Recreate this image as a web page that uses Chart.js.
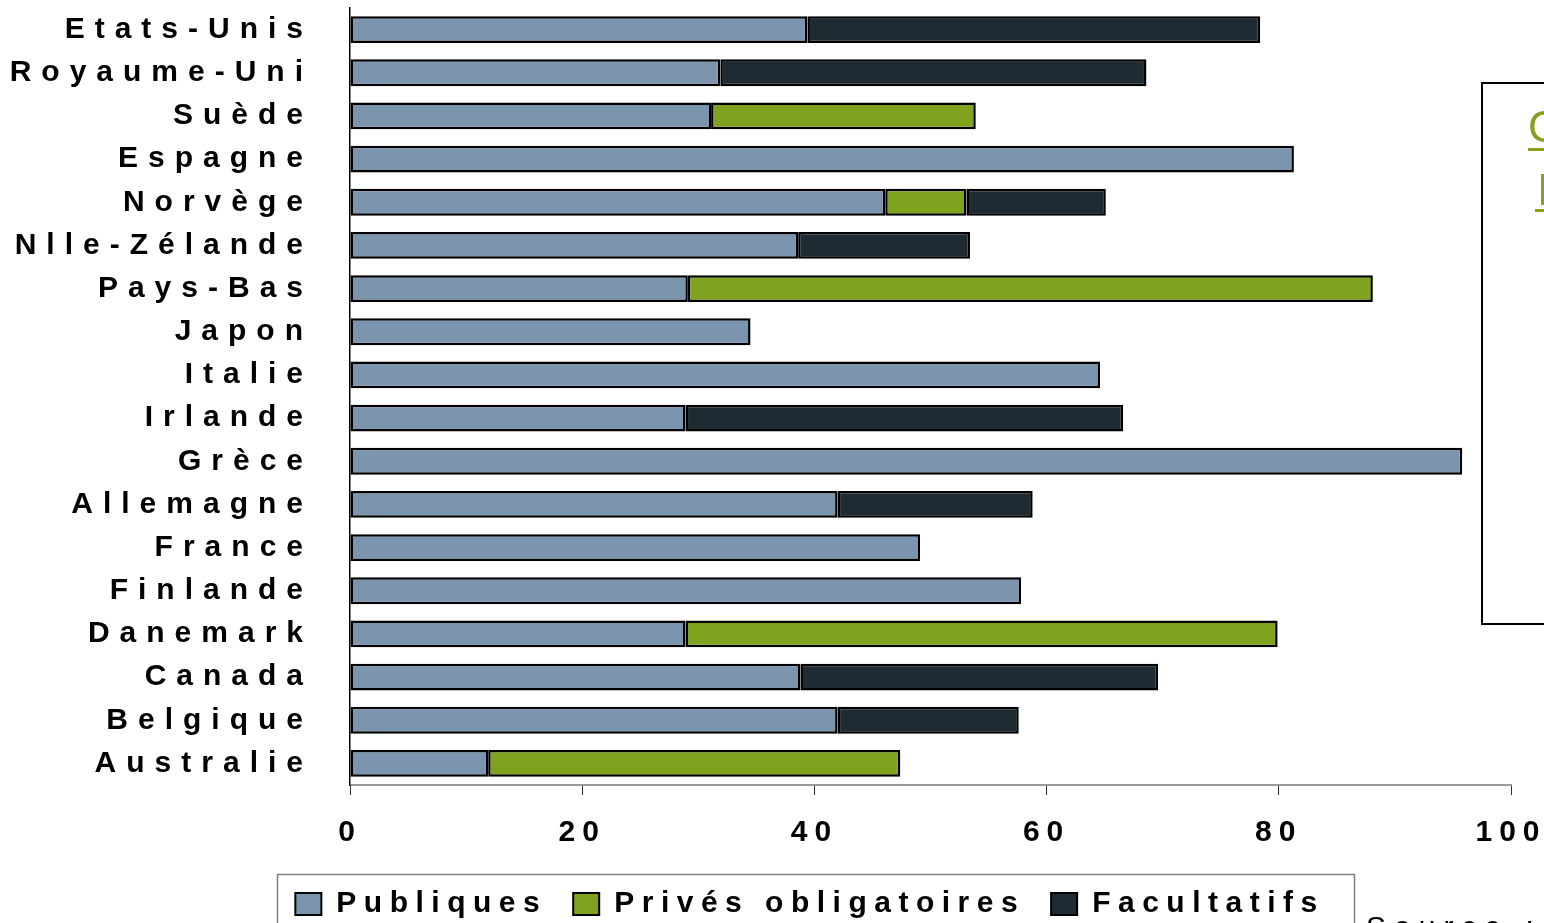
<!DOCTYPE html>
<html>
<head>
<meta charset="utf-8">
<script src="https://cdn.jsdelivr.net/npm/chart.js@4/dist/chart.umd.min.js"></script>
<style>
html,body{margin:0;padding:0;background:#fff;}
#wrap{width:1544px;height:923px;position:relative;}
</style>
</head>
<body>
<div id="wrap"><canvas id="c"></canvas></div>
<script>
const categories = ["Etats-Unis","Royaume-Uni","Suède","Espagne","Norvège","Nlle-Zélande","Pays-Bas","Japon","Italie","Irlande","Grèce","Allemagne","France","Finlande","Danemark","Canada","Belgique","Australie"];
const publiques   = [39.4, 31.9, 31.1, 81.3, 46.1, 38.6, 29.1, 34.5, 64.6, 28.9, 95.8, 42.0, 49.1, 57.8, 28.9, 38.8, 42.0, 11.9];
const prives      = [0, 0, 22.8, 0, 7.0, 0, 59.0, 0, 0, 0, 0, 0, 0, 0, 51.0, 0, 0, 35.5];
const facultatifs = [39.0, 36.7, 0, 0, 12.0, 14.8, 0, 0, 0, 37.7, 0, 16.8, 0, 0, 0, 30.8, 15.6, 0];
const seriesNames = ["Publiques","Privés obligatoires","Facultatifs"];
const xTicks = [0, 20, 40, 60, 80, 100];

const SANS = "'Liberation Sans',Arial,sans-serif";

function patchSpacing(scale, spacing){
  if (!scale || scale._lsPatched) return;
  const orig = scale.drawLabels;
  scale.drawLabels = function(area){
    const c = this.ctx; c.save(); c.letterSpacing = spacing; orig.call(this, area); c.restore();
  };
  scale._lsPatched = true;
}

const deco = {
  id: 'deco',
  beforeUpdate(chart){ chart.ctx.letterSpacing = '7.5px'; },
  afterLayout(chart){
    const lg = chart.legend;
    if (lg){ lg.left = 76; lg.right = 1544; lg.width = 1544 - 76; }
  },
  beforeDraw(chart){
    chart.ctx.letterSpacing = '7.5px';
    patchSpacing(chart.scales.y, '10px');
    patchSpacing(chart.scales.x, '7px');
  },
  afterDraw(chart){
    const ctx = chart.ctx;
    ctx.save();
    // legend frame
    ctx.strokeStyle = '#7f7f7f'; ctx.lineWidth = 1.5;
    ctx.strokeRect(277.5, 874.5, 1077, 80);
    // right side text box (cropped)
    ctx.strokeStyle = '#000'; ctx.lineWidth = 2;
    ctx.strokeRect(1482, 83, 120, 541);
    ctx.letterSpacing = '0px';
    ctx.fillStyle = '#8a9e1e';
    ctx.font = '44px ' + SANS; ctx.textBaseline = 'alphabetic'; ctx.textAlign = 'left';
    ctx.fillText('C', 1528, 142);
    ctx.fillRect(1528, 148, 20, 3);
    ctx.fillText('I', 1537, 205);
    ctx.fillRect(1535, 209, 12, 3);
    // source
    ctx.fillStyle = '#000';
    ctx.font = '30px ' + SANS; ctx.letterSpacing = '8px'; ctx.textBaseline = 'top';
    ctx.fillText('Source : OCDE', 1366, 914);
    ctx.restore();
  }
};

new Chart(document.getElementById('c'), {
  type: 'bar',
  data: {
    labels: categories,
    datasets: [
      { label: seriesNames[0], data: publiques, backgroundColor: '#7b95ae' },
      { label: seriesNames[1], data: prives, backgroundColor: '#7fa31f' },
      { label: seriesNames[2], data: facultatifs, backgroundColor: '#1f2b33' }
    ].map(d => Object.assign(d, { borderColor: '#000', borderWidth: 2.5, borderSkipped: false, categoryPercentage: 1, barPercentage: 0.62 }))
  },
  options: {
    indexAxis: 'y',
    responsive: true,
    maintainAspectRatio: false,
    animation: false,
    layout: { padding: { left: 0, right: 0, top: 8, bottom: -6 } },
    plugins: {
      tooltip: { enabled: false },
      legend: {
        position: 'bottom',
        labels: {
          boxWidth: 26, boxHeight: 22, padding: 26,
          color: '#000',
          font: { family: SANS, size: 30, weight: 'bold' },
          generateLabels(chart){
            return chart.data.datasets.map((d,i) => ({
              text: d.label, fillStyle: d.backgroundColor, strokeStyle: '#000', lineWidth: 2, datasetIndex: i, hidden: false
            }));
          }
        }
      }
    },
    scales: {
      x: {
        stacked: true, min: 0, max: 100,
        afterBuildTicks(s){ s.ticks = xTicks.map(v => ({ value: v })); },
        afterFit(s){ s.height = 78; s.paddingLeft = 0; s.paddingRight = 33; },
        grid: { drawOnChartArea: false, drawTicks: true, tickLength: 10, color: '#333', lineWidth: 1 },
        border: { display: true, color: '#999', width: 2 },
        ticks: { autoSkip: false, maxRotation: 0, minRotation: 0, padding: 20, color: '#000', font: { family: SANS, size: 30, weight: 'bold' } }
      },
      y: {
        stacked: true,
        afterFit(s){ s.width = 350; s.paddingTop = 0; s.paddingBottom = 0; },
        grid: { display: false, drawTicks: false },
        border: { display: true, color: '#000', width: 1.5 },
        ticks: { autoSkip: false, padding: 37, color: '#000', font: { family: SANS, size: 30, weight: 'bold' } }
      }
    }
  },
  plugins: [deco]
});
</script>
</body>
</html>
